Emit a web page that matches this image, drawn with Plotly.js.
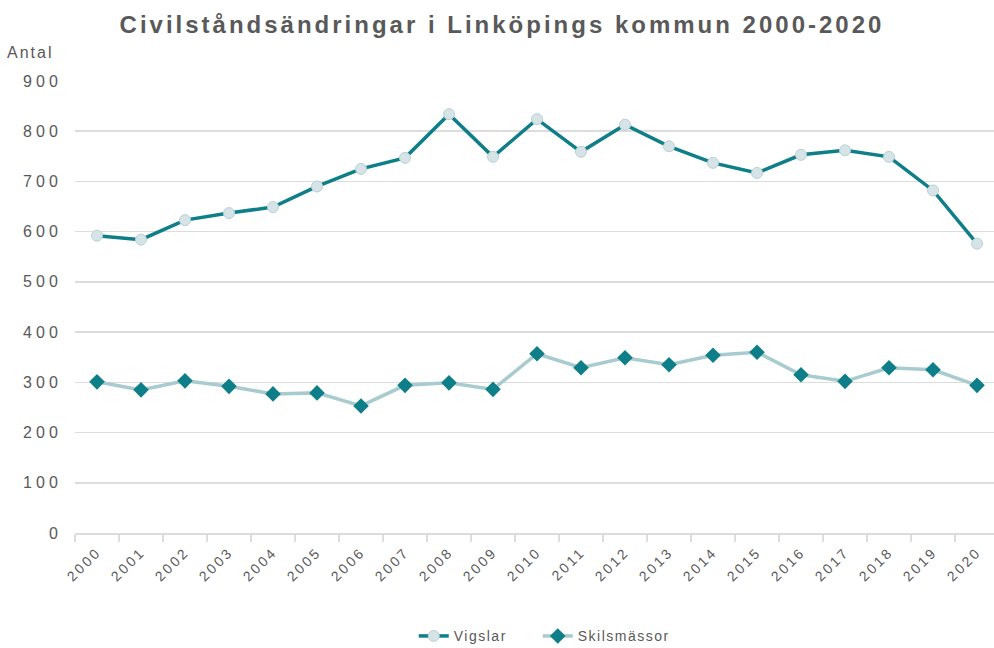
<!DOCTYPE html>
<html>
<head>
<meta charset="utf-8">
<script src="https://cdn.plot.ly/plotly-3.0.1.min.js"></script>
<style>
html,body{margin:0;padding:0;background:#fff;}
#chart{width:994px;height:648px;}
#chart .gtitle{letter-spacing:3px;}
#chart .xtick text{letter-spacing:2.5px;}
#chart .ytick text{letter-spacing:4px;}
#chart .annotation-text{letter-spacing:2px;}
#chart .legendtext{letter-spacing:1.5px;}
#chart .legend .scrollbox{clip-path:none !important;}
</style>
</head>
<body>
<div id="chart"></div>
<script>
const years = ["2000","2001","2002","2003","2004","2005","2006","2007","2008","2009","2010","2011","2012","2013","2014","2015","2016","2017","2018","2019","2020"];
const vigslar = [592,584,623,637,649,690,725,747,834,749,824,759,813,770,737,717,753,762,749,682,576];
const skilsmassor = [301,285,303,292,277,279,253,294,299,286,357,329,349,335,354,360,315,302,329,325,294];
const seriesNames = ["Vigslar","Skilsmässor"];
const yTicks = [0,100,200,300,400,500,600,700,800,900];

const teal = "#0E7F88";
const lightTeal = "#A8CBCF";
const gridCol = "#DCDCDC";
const textCol = "#595959";
const font = "Liberation Sans, Arial, sans-serif";

const traces = [
  {
    x: years, y: vigslar, name: seriesNames[0], type: "scatter", mode: "lines+markers",
    line: {color: teal, width: 3.5},
    marker: {symbol: "circle", size: 11, color: "#D6E4E7", line: {color: "#B9D1D5", width: 1}}
  },
  {
    x: years, y: skilsmassor, name: seriesNames[1], type: "scatter", mode: "lines+markers",
    line: {color: lightTeal, width: 3.5},
    marker: {symbol: "diamond", size: 12, color: teal, line: {width: 0}}
  }
];

const layout = {
  width: 994, height: 648,
  margin: {l: 75, r: 0, t: 81, b: 115},
  paper_bgcolor: "#fff", plot_bgcolor: "#fff",
  font: {family: font, color: textCol, size: 14},
  title: {
    text: "Civilståndsändringar i Linköpings kommun 2000-2020",
    font: {family: font, size: 24, color: textCol, weight: "bold"},
    x: 0.505, xanchor: "center", xref: "container",
    y: 0.962, yanchor: "middle", yref: "container"
  },
  xaxis: {
    type: "category",
    range: [-0.5, 20.386],
    tickson: "boundaries",
    ticks: "outside", ticklen: 7, tickcolor: gridCol, tickwidth: 1.5,
    showline: true, linecolor: gridCol, linewidth: 1.5,
    showgrid: false, zeroline: false,
    tickangle: -45,
    ticklabelstandoff: 4,
    tickfont: {family: font, size: 14, color: textCol},
    fixedrange: true
  },
  yaxis: {
    range: [0, 900],
    tickvals: yTicks,
    ticktext: yTicks.map(String),
    showgrid: true, gridcolor: gridCol, gridwidth: 1.5,
    zeroline: false, showline: false,
    ticks: "outside", ticklen: 9, tickcolor: "rgba(0,0,0,0)",
    tickfont: {family: font, size: 16, color: textCol},
    fixedrange: true
  },
  showlegend: true,
  legend: {
    orientation: "h",
    xref: "container", yref: "container",
    x: 0.541, xanchor: "center",
    y: 0.018, yanchor: "middle",
    entrywidth: 79,
    font: {family: font, size: 14, color: textCol},
    tracegroupgap: 0
  },
  annotations: [
    {text: "Antal", xref: "paper", yref: "paper", x: (10 - 75) / 919, y: (533 - 53) / 452, xanchor: "left", yanchor: "middle",
     showarrow: false, font: {family: font, size: 16, color: textCol}}
  ]
};

Plotly.newPlot("chart", traces, layout, {displayModeBar: false, staticPlot: true});
</script>
</body>
</html>
